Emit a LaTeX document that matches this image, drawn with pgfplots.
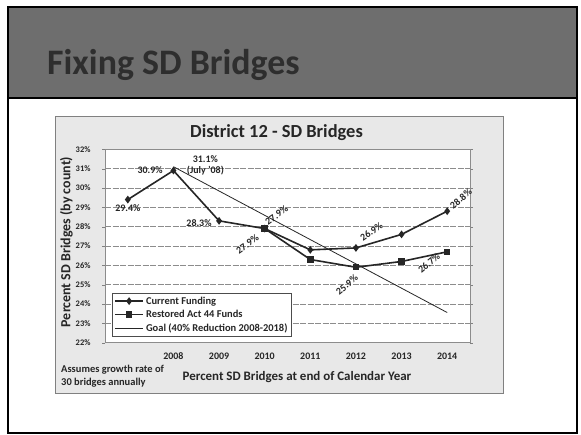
\documentclass[border=0pt]{standalone}
\usepackage{pgfplots}
\pgfplotsset{compat=1.18}
\usepackage{fontspec}
\setmainfont{Carlito}
\begin{document}
\begin{tikzpicture}[x=1bp,y=1bp]
\path[use as bounding box] (0,0) rectangle (581,435);
\fill[white] (0,0) rectangle (581,435);
% title band
\fill[black!57] (8,428) rectangle (577,337);
\draw[line width=1.5bp] (8,337) -- (577,337);
\draw[line width=1.8bp] (8,2) rectangle (577,428);
\node[anchor=base west, font=\bfseries\fontsize{36}{38}\selectfont, text=black!82, inner sep=0] at (47,360) {Fixing SD Bridges};
% chart area
\draw[black!50, fill=black!9] (55,42) rectangle (503,319);
\node[font=\bfseries\fontsize{18.5}{20}\selectfont, text=black!85] at (276.5,302) {District 12 - SD Bridges};
\node[rotate=90, font=\bfseries\fontsize{14}{16}\selectfont, text=black!85] at (66.5,193) {Percent SD Bridges (by count)};
\node[font=\bfseries\fontsize{13}{15}\selectfont, text=black!85] at (297,58) {Percent SD Bridges at end of Calendar Year};
\node[anchor=north west, align=left, inner sep=0, font=\bfseries\fontsize{10.5}{13}\selectfont, text=black!85] at (61,70) {Assumes growth rate of\\30 bridges annually};
\begin{axis}[
  at={(105bp,92.3bp)}, anchor=south west, scale only axis,
  width=365bp, height=193.4bp,
  xmin=2006.5, xmax=2014.5, ymin=22, ymax=32,
  xtick={2008,2009,2010,2011,2012,2013,2014},
  xticklabels={2008,2009,2010,2011,2012,2013,2014},
  extra x ticks={2006.5,2007.5,2008.5,2009.5,2010.5,2011.5,2012.5,2013.5,2014.5},
  extra x tick labels={},
  extra x tick style={major tick length=3bp, tick style={black!50}},
  ytick={22,23,24,25,26,27,28,29,30,31,32},
  yticklabels={22\%,23\%,24\%,25\%,26\%,27\%,28\%,29\%,30\%,31\%,32\%},
  tick align=outside,
  major tick length=3bp,
  xtick style={draw=none},
  ytick style={black!50},
  x tick label style={font=\bfseries\fontsize{10}{11}\selectfont, text=black!85, yshift=-3bp, text height=7bp, text depth=0bp},
  y tick label style={font=\bfseries\fontsize{8.5}{9}\selectfont, text=black!85, xshift=-8bp},
  ymajorgrids,
  grid style={black!45, line width=0.7bp, dash pattern=on 6bp off 1.5bp},
  axis line style={black!45},
  axis background/.style={fill=white},
  clip=false,
  legend style={at={(0.019,0.257)}, anchor=north west, draw=black!70, fill=white,
    font=\bfseries\fontsize{10.5}{11}\selectfont, text=black!85, row sep=0.5bp, inner xsep=2bp, inner ysep=1.5bp},
  legend cell align=left,
  legend image code/.code={\draw[mark repeat=2,mark phase=2,#1] plot coordinates {(0cm,0cm)(0.5cm,0cm)(1cm,0cm)};},
]
\addplot[black!85, line width=1.6bp, mark=diamond*, mark size=2.6bp, mark options={solid}] coordinates {
 (2007,29.4) (2008,30.9) (2009,28.3) (2010,27.9) (2011,26.8) (2012,26.9) (2013,27.6) (2014,28.8)};
\addlegendentry{Current Funding}
\addplot[black!85, line width=1.6bp, mark=square*, mark size=2.4bp, mark options={solid}] coordinates {
 (2010,27.9) (2011,26.3) (2012,25.9) (2013,26.2) (2014,26.7)};
\addlegendentry{Restored Act 44 Funds}
\addplot[black!85, line width=0.8bp] coordinates {(2008,31.1) (2014,23.56)};
\addlegendentry{Goal (40\% Reduction 2008-2018)}
\begin{scope}[every node/.style={font=\bfseries\fontsize{10}{11}\selectfont, text=black!85, inner sep=0.5bp}]
\node[anchor=north] at (axis cs:2007,29.2) {29.4\%};
\node[anchor=east] at (axis cs:2007.78,30.9) {30.9\%};
\node[anchor=east] at (axis cs:2008.85,28.2) {28.3\%};
\node[align=center] at (axis cs:2008.7,31.15) {31.1\%\\(July '08)};
\node[rotate=35] at (axis cs:2010.26,28.6) {27.9\%};
\node[rotate=35] at (axis cs:2009.62,27.1) {27.9\%};
\node[rotate=35] at (axis cs:2012.34,27.75) {26.9\%};
\node[rotate=40] at (axis cs:2014.3,29.45) {28.8\%};
\node[rotate=40] at (axis cs:2011.8,25.0) {25.9\%};
\node[rotate=40] at (axis cs:2013.6,26.12) {26.7\%};
\end{scope}
\end{axis}
\end{tikzpicture}
\end{document}
